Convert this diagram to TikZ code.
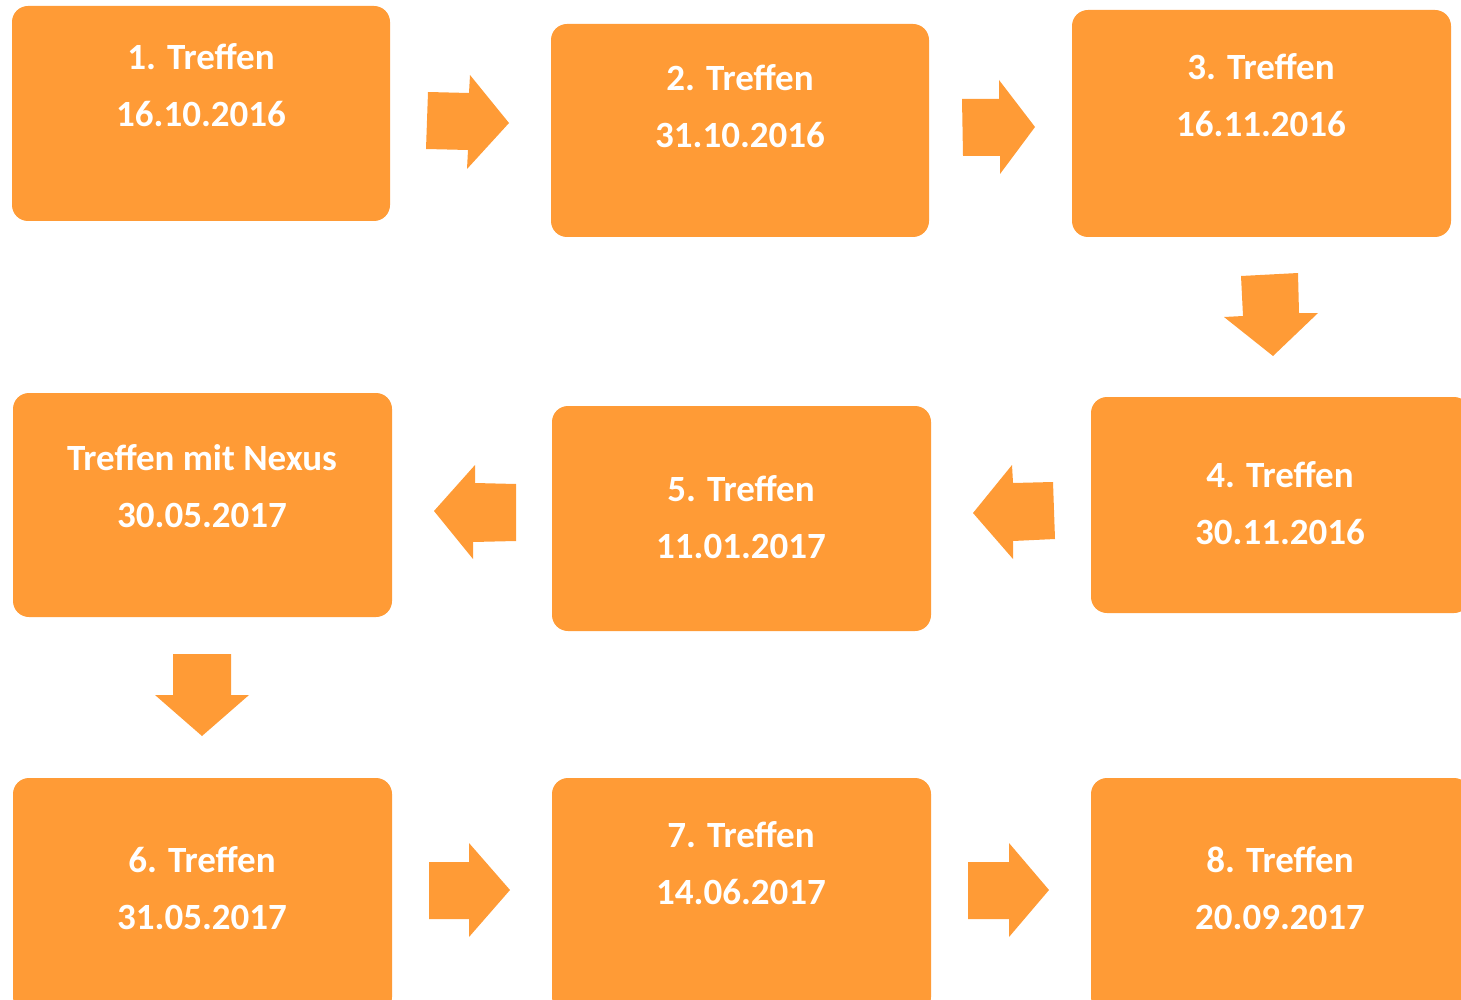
\documentclass[tikz,border=0pt]{standalone}
\usepackage{fontspec}
\setmainfont{Carlito}
\definecolor{boxorange}{RGB}{255,155,54}
\begin{document}
\begin{tikzpicture}[x=1pt,y=-1pt,
  box/.style={fill=boxorange,draw=none,rounded corners=16pt,rectangle,anchor=north west,inner sep=0pt,outer sep=0pt},
  lbl/.style={text=white,font=\fontsize{37}{44}\selectfont\bfseries,anchor=base,inner sep=0pt},
  barrow/.style={fill=boxorange,draw=none}]
\useasboundingbox (0,0) rectangle (1461,1000);
\clip (0,0) rectangle (1461,1000);
% boxes
\node[box,minimum width=378pt,minimum height=215pt] (b1) at (12,6) {};
\node[box,minimum width=378pt,minimum height=213pt] (b2) at (551,24) {};
\node[box,minimum width=379pt,minimum height=227pt] (b3) at (1072,10) {};
\node[box,minimum width=379pt,minimum height=216pt] (b4) at (1091,397) {};
\node[box,minimum width=379pt,minimum height=225pt] (b5) at (552,406) {};
\node[box,minimum width=379pt,minimum height=224pt] (bn) at (13,393) {};
\node[box,minimum width=379pt,minimum height=235pt] (b6) at (13,778) {};
\node[box,minimum width=379pt,minimum height=235pt] (b7) at (552,778) {};
\node[box,minimum width=379pt,minimum height=235pt] (b8) at (1091,778) {};
% labels
\node[lbl] (t1a) at (201,70) {1. Treffen};
\node[lbl] (t1b) at (201,127) {16.10.2016};
\node[lbl] (t2a) at (740,91) {2. Treffen};
\node[lbl] (t2b) at (740,148) {31.10.2016};
\node[lbl] (t3a) at (1261,80) {3. Treffen};
\node[lbl] (t3b) at (1261,137) {16.11.2016};
\node[lbl] (t4a) at (1280,487) {4. Treffen};
\node[lbl] (t4b) at (1280,544) {30.11.2016};
\node[lbl] (t5a) at (741,501) {5. Treffen};
\node[lbl] (t5b) at (741,558) {11.01.2017};
\node[lbl] (tna) at (202,470) {Treffen mit Nexus};
\node[lbl] (tnb) at (202,527) {30.05.2017};
\node[lbl] (t6a) at (202,872) {6. Treffen};
\node[lbl] (t6b) at (202,929) {31.05.2017};
\node[lbl] (t7a) at (741,847) {7. Treffen};
\node[lbl] (t7b) at (741,904) {14.06.2017};
\node[lbl] (t8a) at (1280,872) {8. Treffen};
\node[lbl] (t8b) at (1280,929) {20.09.2017};
% block arrows
\fill[barrow] (428,92) -- (469,93) -- (470,75) -- (509,123) -- (467,169) -- (468,150) -- (426,149) -- cycle;
\fill[barrow] (962,99) -- (999,99) -- (999,80) -- (1035,127) -- (1000,174) -- (1000,156) -- (963,156) -- cycle;
\fill[barrow] (1241,276) -- (1298,273) -- (1299,313) -- (1318,313) -- (1273,356) -- (1224,317) -- (1243,316) -- cycle;
\fill[barrow] (1053,482) -- (1013,483) -- (1012,465) -- (973,513) -- (1013,559) -- (1013,541) -- (1055,539) -- cycle;
\fill[barrow] (516,484) -- (475,483) -- (475,465) -- (434,511) -- (473,559) -- (473,542) -- (516,541) -- cycle;
\fill[barrow] (173,654) -- (231,654) -- (231,695) -- (249,695) -- (202,736) -- (155,695) -- (173,695) -- cycle;
\fill[barrow] (429,862) -- (469,862) -- (469,843) -- (510,890) -- (469,937) -- (469,919) -- (429,919) -- cycle;
\fill[barrow] (968,862) -- (1009,862) -- (1009,843) -- (1049,890) -- (1009,937) -- (1009,919) -- (968,919) -- cycle;
\end{tikzpicture}
\end{document}
